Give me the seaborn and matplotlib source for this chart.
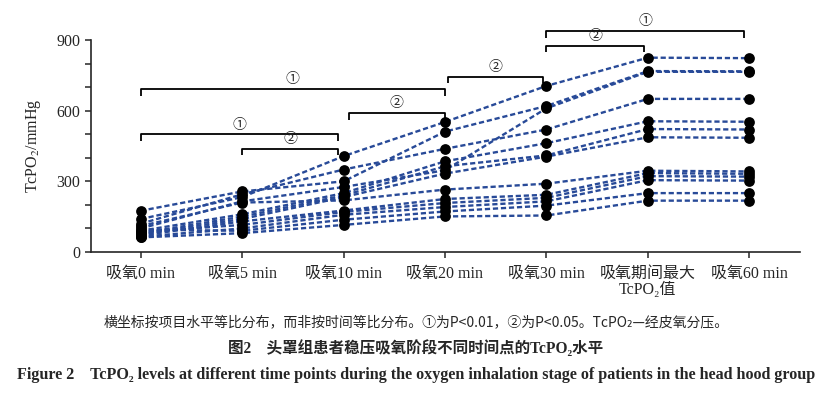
import pandas as pd
import matplotlib.pyplot as plt
import seaborn as sns

# time points (x categories)
labels = ["吸氧0 min", "吸氧5 min", "吸氧10 min", "吸氧20 min", "吸氧30 min",
          "吸氧期间最大\nTcPO₂值", "吸氧60 min"]

# TcPO2 (mmHg) of each patient at each time point
t0 = [140, 175, 100, 120, 90, 80, 75, 110, 70, 85, 65, 95, 62]
t5 = [233, 257, 215, 245, 160, 150, 140, 210, 130, 115, 100, 90, 80]
t10 = [407, 300, 276, 350, 250, 240, 233, 219, 176, 170, 158, 137, 115]
t20 = [552, 511, 347, 438, 385, 364, 333, 265, 225, 208, 191, 172, 151]
t30 = [705, 620, 610, 520, 462, 410, 405, 290, 243, 230, 215, 197, 155]
tmax = [825, 768, 765, 650, 555, 522, 487, 345, 335, 322, 305, 250, 218]
t60 = [823, 767, 765, 650, 553, 520, 485, 342, 332, 320, 303, 250, 218]

# significance brackets: (x start, x end, height, mark)
brackets = [
    (0.0, 3.0, 691, "①"),
    (0.0, 1.95, 499, "①"),
    (1.0, 1.95, 439, "②"),
    (2.05, 3.0, 589, "②"),
    (3.03, 3.97, 745, "②"),
    (4.0, 4.96, 876, "②"),
    (4.0, 5.95, 937, "①"),
]

series = [t0, t5, t10, t20, t30, tmax, t60]
rows = []
for i, vals in enumerate(series):
    for pid, v in enumerate(vals):
        rows.append({"pos": i, "pid": pid, "value": v})
df = pd.DataFrame(rows)

sns.set_style("ticks")
plt.rcParams["font.family"] = ["Liberation Serif", "Noto Sans CJK SC"]
plt.rcParams["mathtext.fontset"] = "stix"

fig = plt.figure(figsize=(8.32, 3.98), dpi=100)
ax = fig.add_axes([91 / 832, 1 - 252 / 398, (800 - 91) / 832, (252 - 40) / 398])

sns.lineplot(data=df, x="pos", y="value", units="pid", estimator=None,
             color="#284A98", lw=1.7, ls=(0, (2.2, 1.2)), ax=ax, legend=False)
sns.scatterplot(data=df, x="pos", y="value", color="black", s=60,
                edgecolor="black", linewidth=0, zorder=5, ax=ax, legend=False)

ax.set_xlim(-0.49, 6.5)
ax.set_ylim(0, 900)
ax.set_xticks(range(len(labels)))
ax.set_xticklabels(labels, fontsize=11.5, linespacing=1.0)
ax.set_yticks([0, 300, 600, 900])
ax.set_yticks(range(100, 900, 100), minor=True)
ax.tick_params(axis="y", labelsize=11.5, length=4, width=1.1, direction="out")
ax.tick_params(axis="y", which="minor", length=4, width=1.1)
ax.tick_params(axis="x", length=4, width=1.1, direction="out", pad=6)
ax.set_xlabel("")
ax.set_ylabel("TcPO$_2$/mmHg", fontsize=11.5, labelpad=10)
for s in ["top", "right"]:
    ax.spines[s].set_visible(False)
for s in ["left", "bottom"]:
    ax.spines[s].set_linewidth(1.2)

# brackets
for x1, x2, h, mark in brackets:
    ax.plot([x1, x1, x2, x2], [h - 28, h, h, h - 28], color="black",
            lw=1.3, clip_on=False, solid_capstyle="butt")
    ax.text((x1 + x2) / 2, h + 12, mark, ha="center", va="bottom",
            fontsize=10, family=["Noto Sans CJK SC"], clip_on=False)

# captions
fig.text(0.5, 1 - 322 / 398,
         "横坐标按项目水平等比分布，而非按时间等比分布。①为P<0.01，②为P<0.05。TcPO₂—经皮氧分压。",
         ha="center", va="center", fontsize=10,
         family=["Noto Sans CJK SC", "DejaVu Sans"])
fig.text(0.5, 1 - 349 / 398, "图2　头罩组患者稳压吸氧阶段不同时间点的TcPO₂水平",
         ha="center", va="center", fontsize=11.2, fontweight="bold",
         family=["Liberation Serif", "Noto Sans CJK SC"])
fig.text(0.5, 1 - 375 / 398,
         "Figure 2    TcPO₂ levels at different time points during the oxygen inhalation stage of patients in the head hood group",
         ha="center", va="center", fontsize=11.6, fontweight="bold",
         family=["Liberation Serif", "Noto Sans CJK SC"])

fig.savefig("out.png", dpi=100)
